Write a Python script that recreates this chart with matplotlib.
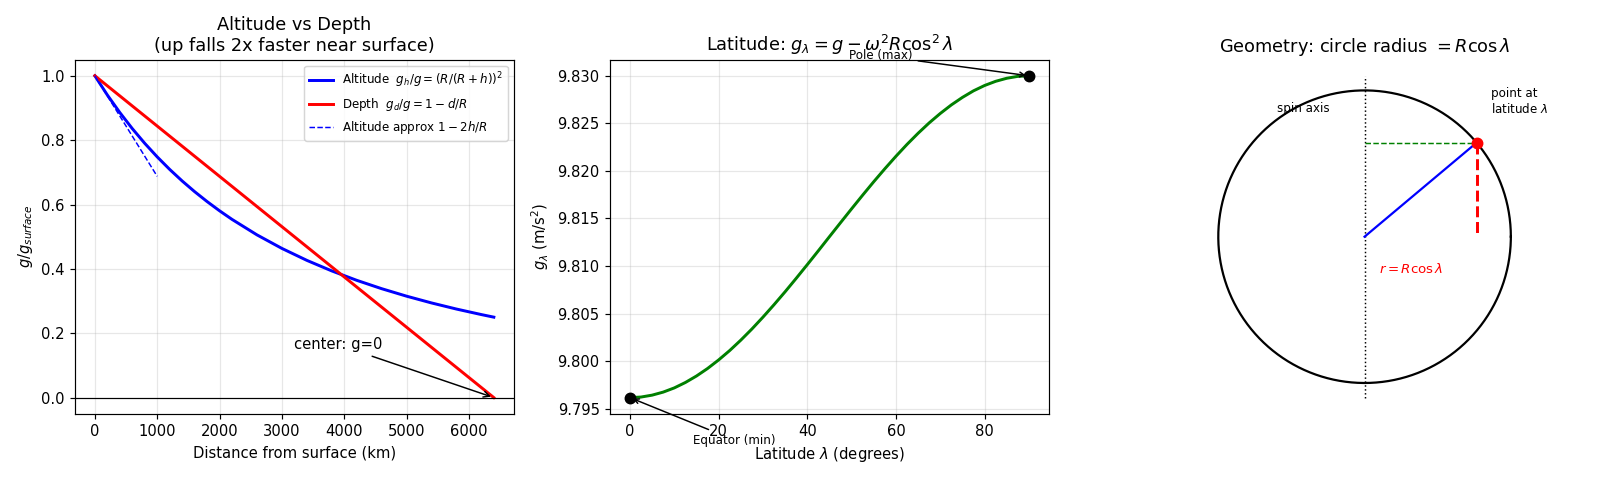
import numpy as np
import matplotlib.pyplot as plt

# panel 1: distance from surface (km) and g/g_surface
dist_km = [0, 200, 400, 600, 800, 1000, 1200, 1400, 1600, 1800, 2000, 2200,
           2600, 3000, 3400, 3800, 4200, 4600, 5000, 5400, 5800, 6200, 6400]
alt_ratio = [1.0, 0.9403, 0.8858, 0.8359, 0.7901, 0.7480, 0.7091, 0.6732,
             0.6400, 0.6092, 0.5805, 0.5538, 0.5057, 0.4636, 0.4265, 0.3937,
             0.3645, 0.3385, 0.3152, 0.2942, 0.2752, 0.2580, 0.2500]
depth_km = [0, 6400]
depth_ratio = [1.0, 0.0]
approx_km = [0, 1000]
approx_ratio = [1.0, 0.6875]

# panel 2: g vs latitude
lat_deg = [0, 2.5, 5, 7.5, 10, 12.5, 15, 17.5, 20, 22.5, 25, 27.5, 30, 32.5,
           35, 37.5, 40, 42.5, 45, 47.5, 50, 52.5, 55, 57.5, 60, 62.5, 65,
           67.5, 70, 72.5, 75, 77.5, 80, 82.5, 85, 87.5, 90]
g_lat = [9.79617, 9.79623, 9.79643, 9.79675, 9.79719, 9.79776, 9.79844,
         9.79923, 9.80013, 9.80112, 9.80221, 9.80338, 9.80463, 9.80594,
         9.80730, 9.80871, 9.81015, 9.81161, 9.81309, 9.81456, 9.81602,
         9.81746, 9.81887, 9.82023, 9.82154, 9.82279, 9.82396, 9.82505,
         9.82604, 9.82694, 9.82773, 9.82842, 9.82898, 9.82942, 9.82974,
         9.82994, 9.83000]

# panel 3: geometry sketch
lam = 40

fig, axes = plt.subplots(1, 3, figsize=(15, 4.5), dpi=1600 / 15)

ax = axes[0]
ax.plot(dist_km, alt_ratio, 'b', lw=2, label=r'Altitude  $g_h/g=(R/(R+h))^2$')
ax.plot(depth_km, depth_ratio, 'r', lw=2, label=r'Depth  $g_d/g=1-d/R$')
ax.plot(approx_km, approx_ratio, 'b--', lw=1, label=r'Altitude approx $1-2h/R$')
ax.axhline(0, color='k', lw=0.8)
ax.annotate('center: g=0', xy=(6400, 0), xytext=(3200, 0.15),
            arrowprops=dict(arrowstyle='->', color='k'))
ax.set_xlabel('Distance from surface (km)')
ax.set_ylabel('$g/g_{surface}$')
ax.set_title('Altitude vs Depth\n(up falls 2x faster near surface)')
ax.legend(fontsize=8)
ax.grid(alpha=0.3)

ax = axes[1]
ax.plot(lat_deg, g_lat, 'g', lw=2)
ax.plot([lat_deg[0]], [g_lat[0]], 'ko', ms=7)
ax.plot([lat_deg[-1]], [g_lat[-1]], 'ko', ms=7)
ax.annotate('Pole (max)', xy=(lat_deg[-1], g_lat[-1]), xytext=(56.5, 9.8321),
            ha='center', va='center', fontsize=8,
            arrowprops=dict(arrowstyle='->', color='k'))
ax.annotate('Equator (min)', xy=(lat_deg[0], g_lat[0]), xytext=(23.6, 9.7917),
            ha='center', va='center', fontsize=8,
            arrowprops=dict(arrowstyle='->', color='k'))
ax.set_xlabel(r'Latitude $\lambda$ (degrees)')
ax.set_ylabel(r'$g_\lambda$ (m/s$^2$)')
ax.set_title(r'Latitude: $g_\lambda = g - \omega^2 R\cos^2\lambda$')
ax.grid(alpha=0.3)

ax = axes[2]
t = np.linspace(0, 2 * np.pi, 300)
ax.plot(np.cos(t), np.sin(t), 'k', lw=1.5)
ax.plot([0, 0], [-1.1, 1.1], 'k:', lw=1)
px, py = np.cos(np.radians(lam)), np.sin(np.radians(lam))
ax.plot([0, px], [0, py], 'b', lw=1.5)
ax.plot([0, px], [py, py], 'g--', lw=1)
ax.plot([px, px], [py, 0], 'r--', lw=2)
ax.plot(px, py, 'ro', ms=7)
ax.text(-0.6, 0.85, 'spin axis', fontsize=8)
ax.text(px + 0.1, py + 0.2, 'point at\nlatitude $\\lambda$', fontsize=8)
ax.text(0.1, -0.25, r'$r = R\cos\lambda$', color='r', fontsize=9)
ax.set_xlim(-1.5, 1.5)
ax.set_ylim(-1.2, 1.2)
ax.set_aspect('equal')
ax.axis('off')
ax.set_title(r'Geometry: circle radius $= R\cos\lambda$')

plt.tight_layout()
plt.savefig('out.png')
